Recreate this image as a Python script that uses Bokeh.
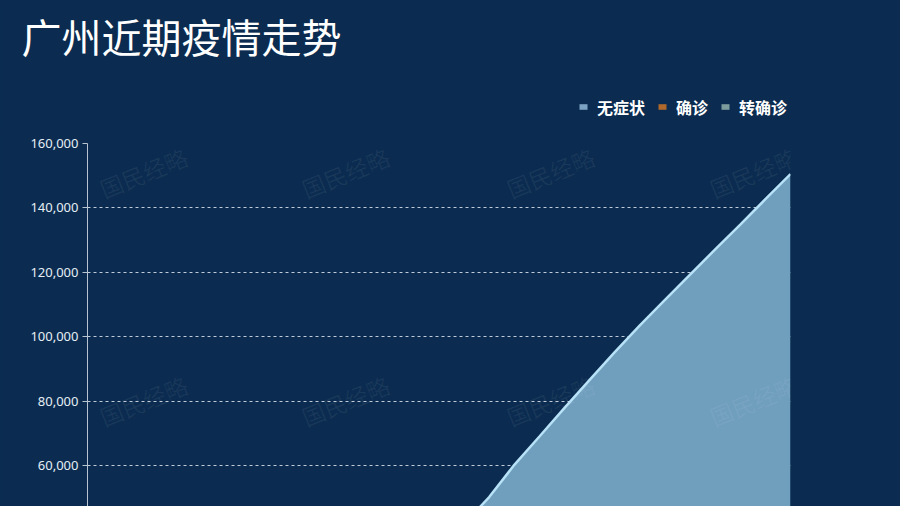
from bokeh.plotting import figure
from bokeh.layouts import column
from bokeh.models import (Range1d, FixedTicker, NumeralTickFormatter, Label,
                          Legend, LegendItem)
from bokeh.embed import file_html
from bokeh.resources import INLINE

# ---- data ----
dates = ["10-22", "10-23", "10-24", "10-25", "10-26", "10-27", "10-28", "10-29",
         "10-30", "10-31", "11-01", "11-02", "11-03", "11-04", "11-05", "11-06",
         "11-07", "11-08", "11-09", "11-10", "11-11", "11-12", "11-13", "11-14",
         "11-15", "11-16", "11-17", "11-18", "11-19"]
asymptomatic = [200, 400, 700, 1200, 1900, 2800, 4000, 5500, 7500, 10000, 13000,
                17000, 22000, 27500, 34000, 41800, 50200, 60200, 69000, 77900,
                86600, 95200, 103500, 111400, 119300, 127100, 134800, 142700, 150500]
confirmed = [10, 20, 30, 50, 70, 100, 130, 170, 220, 280, 350, 430, 520, 620, 730,
             850, 980, 1120, 1270, 1430, 1600, 1780, 1970, 2170, 2380, 2600, 2830,
             3070, 3320]
to_confirmed = [0, 0, 5, 10, 15, 20, 30, 40, 50, 65, 80, 100, 120, 145, 170, 200,
                230, 265, 300, 340, 380, 425, 470, 520, 570, 625, 680, 740, 800]
series_names = ["无症状", "确诊", "转确诊"]
series_values = [asymptomatic, confirmed, to_confirmed]
series_colors = ["#7ba2c2", "#b0692a", "#7c9c9e"]
y_ticks = [60000, 80000, 100000, 120000, 140000, 160000]
title_text = "广州近期疫情走势"
watermark = "国民经略"

BG = "#0b2c50"
x = list(range(len(dates)))


def no_align(fig):
    try:
        fig.frame_align = False
    except Exception:
        pass


# ---- header: title + legend ----
head = figure(width=900, height=133, output_backend="svg", toolbar_location=None,
              x_range=Range1d(0, 900), y_range=Range1d(0, 133),
              x_axis_location=None, y_axis_location=None,
              min_border=0, title=None)
head.background_fill_color = BG
head.border_fill_color = BG
head.outline_line_color = None
head.grid.grid_line_color = None
head.styles = {"background-color": BG}
no_align(head)

head.add_layout(Label(x=21, y=98, x_units="screen", y_units="screen",
                      text=title_text, text_font="Noto Sans CJK SC",
                      text_font_size="40px", text_color="#ffffff",
                      text_baseline="middle", text_align="left"))

key_renderers = [head.varea(x=x, y1=0, y2=v, fill_color=c, visible=False)
                 for v, c in zip(series_values, series_colors)]
legend = Legend(items=[LegendItem(label=n, renderers=[r])
                       for n, r in zip(series_names, key_renderers)],
                orientation="horizontal", location=(578, 14.5),
                background_fill_alpha=0, border_line_color=None,
                label_text_color="#ffffff", label_text_font="Noto Sans CJK SC",
                label_text_font_size="16px", label_text_font_style="bold",
                glyph_width=10, glyph_height=7, label_standoff=9, spacing=12,
                padding=0, margin=0, label_height=20,
                inactive_fill_alpha=0)
head.add_layout(legend, "center")

# ---- main chart ----
p = figure(width=900, height=373, output_backend="svg", toolbar_location=None,
           x_range=Range1d(0, len(dates) - 1), y_range=Range1d(47267, 160000),
           x_axis_location=None, min_border_left=87, min_border_right=110,
           min_border_top=10, min_border_bottom=0, title=None)
p.background_fill_color = BG
p.border_fill_color = BG
p.outline_line_color = None
p.styles = {"background-color": BG}
no_align(p)

p.varea(x=x, y1=0, y2=asymptomatic, fill_color="#709ebd", fill_alpha=1)
p.line(x=x, y=asymptomatic, line_color="#b8e2f8", line_width=2.5)
p.varea(x=x, y1=0, y2=confirmed, fill_color=series_colors[1])
p.varea(x=x, y1=0, y2=to_confirmed, fill_color=series_colors[2])

ax = p.yaxis[0]
ax.ticker = FixedTicker(ticks=y_ticks)
ax.formatter = NumeralTickFormatter(format="0,0")
ax.axis_line_color = "#b8c4d0"
ax.axis_line_width = 1
ax.major_tick_line_color = "#b8c4d0"
ax.major_tick_out = 5
ax.major_tick_in = 0
ax.minor_tick_line_color = None
ax.major_label_text_color = "#e6eef5"
ax.major_label_text_font = "Noto Sans"
ax.major_label_text_font_size = "13px"
ax.major_label_standoff = 4

p.xgrid.grid_line_color = None
p.ygrid.ticker = FixedTicker(ticks=y_ticks)
p.ygrid.grid_line_color = "#dfe8f0"
p.ygrid.grid_line_alpha = 0.85
p.ygrid.grid_line_dash = "3 3"
p.ygrid.grid_line_width = 1

for wx in [56, 258, 463, 666]:
    for wy in [334, 106]:
        p.add_layout(Label(x=wx, y=wy, x_units="screen", y_units="screen",
                           text=watermark, angle=22, angle_units="deg",
                           text_align="center", text_baseline="middle",
                           text_font="Noto Sans CJK SC", text_font_size="23px",
                           text_color="#ffffff", text_alpha=0.06))

layout = column(head, p, spacing=0, styles={"background-color": BG})
html = file_html(layout, INLINE)
html = html.replace("<head>", "<head><style>html,body{margin:0;background:%s;}</style>" % BG, 1)
open("out.html", "w").write(html)
